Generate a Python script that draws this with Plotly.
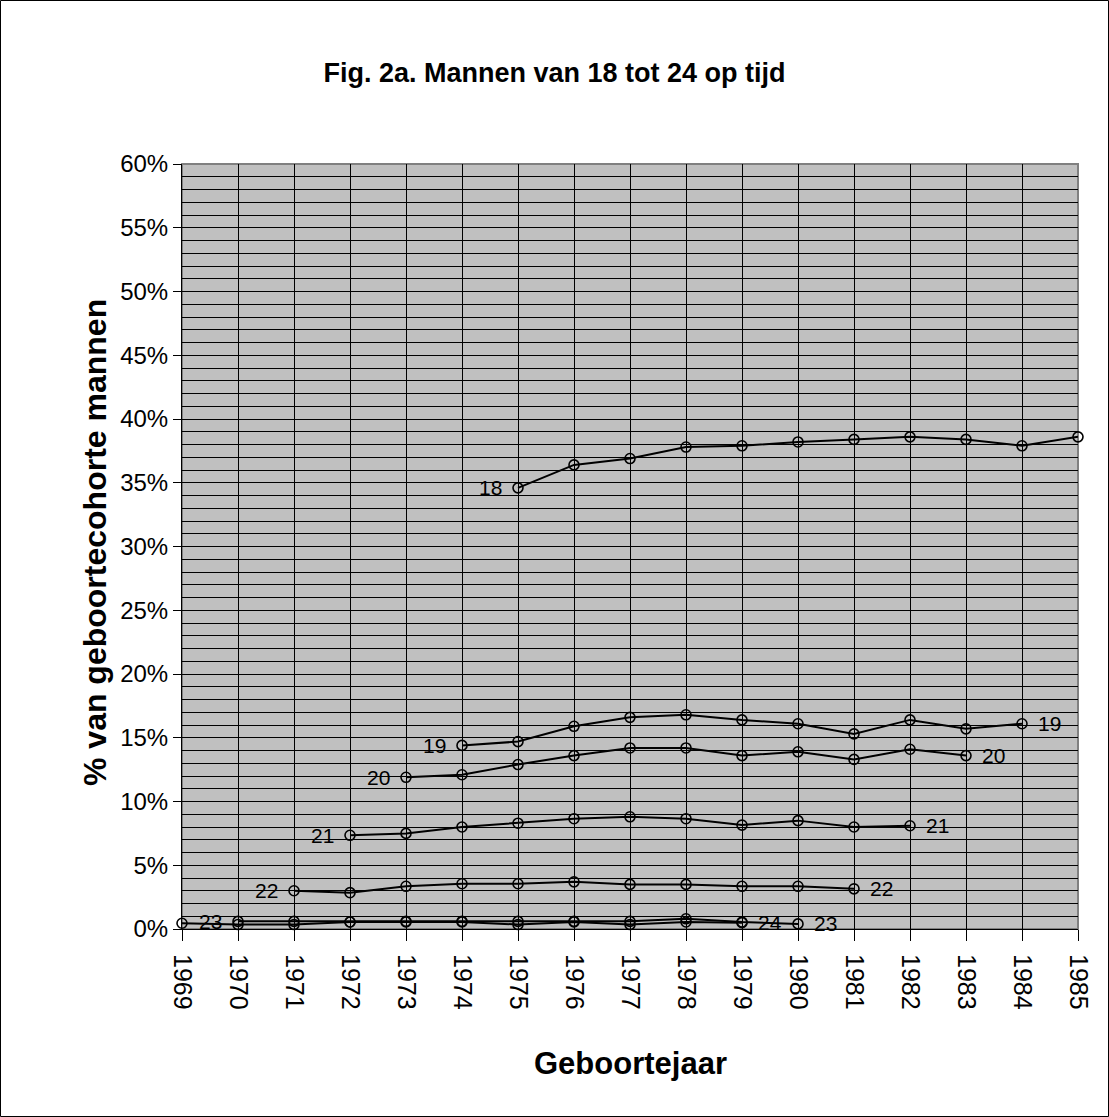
import plotly.graph_objects as go

# geboortejaren (x-as)
jaren = list(range(1969, 1986))

# y-as: percentages met tekst
y_ticks = list(range(0, 61, 5))
y_labels = [f"{v}%" for v in y_ticks]

# % van geboortecohorte mannen per leeftijd, van eerste tot laatste geboortejaar
jaren_18 = list(range(1975, 1986))
pct_18 = [34.6, 36.4, 36.9, 37.8, 37.9, 38.2, 38.4, 38.6, 38.4, 37.9, 38.6]

jaren_19 = list(range(1974, 1985))
pct_19 = [14.4, 14.7, 15.9, 16.6, 16.8, 16.4, 16.1, 15.3, 16.4, 15.7, 16.1]

jaren_20 = list(range(1973, 1984))
pct_20 = [11.9, 12.1, 12.9, 13.6, 14.2, 14.2, 13.6, 13.9, 13.3, 14.1, 13.6]

jaren_21 = list(range(1972, 1983))
pct_21 = [7.35, 7.5, 8.0, 8.3, 8.65, 8.8, 8.65, 8.15, 8.5, 8.0, 8.1]

jaren_22 = list(range(1971, 1982))
pct_22 = [3.0, 2.85, 3.35, 3.55, 3.55, 3.7, 3.5, 3.5, 3.35, 3.35, 3.15]

jaren_23 = list(range(1970, 1981))
pct_23 = [0.6, 0.6, 0.55, 0.6, 0.6, 0.6, 0.6, 0.6, 0.8, 0.55, 0.4]

jaren_24 = list(range(1969, 1980))
pct_24 = [0.45, 0.35, 0.35, 0.55, 0.55, 0.55, 0.35, 0.55, 0.35, 0.55, 0.5]

reeksen = [
    ("18", jaren_18, pct_18, True, False),
    ("19", jaren_19, pct_19, True, True),
    ("20", jaren_20, pct_20, True, True),
    ("21", jaren_21, pct_21, True, True),
    ("22", jaren_22, pct_22, True, True),
    ("23", jaren_23, pct_23, True, True),
    ("24", jaren_24, pct_24, False, True),
]

FONT = "Liberation Sans, Arial, sans-serif"
W, H = 1109, 1117
L, R, T, B = 182, 31, 164, 188
pw, ph = W - L - R, H - T - B


def px_x(x):
    return (x - L) / pw


def px_y(y):
    return (H - B - y) / ph


fig = go.Figure()
annotations = []

for naam, xs, ys, links, rechts in reeksen:
    fig.add_trace(go.Scatter(
        x=xs, y=ys, mode="lines+markers", name=naam,
        line=dict(color="black", width=2),
        marker=dict(symbol="circle-open", size=10, color="black", line=dict(width=1.6)),
        cliponaxis=False,
    ))
    lab = dict(text=naam, showarrow=False, font=dict(family=FONT, size=21, color="black"))
    if links:
        annotations.append(dict(lab, x=xs[0], y=ys[0], xanchor="right", xshift=-14))
    if rechts:
        annotations.append(dict(lab, x=xs[-1], y=ys[-1], xanchor="left", xshift=14))

# as-titels
annotations.append(dict(text="<b>Geboortejaar</b>", showarrow=False, xref="paper", yref="paper",
                        x=0.5, y=px_y(1063), xanchor="center", yanchor="middle",
                        font=dict(family=FONT, size=31, color="black")))
annotations.append(dict(text="<b>% van geboortecohorte mannen</b>", showarrow=False,
                        xref="paper", yref="paper", textangle=-90,
                        x=px_x(95), y=px_y(543), xanchor="center", yanchor="middle",
                        font=dict(family=FONT, size=32, color="black")))

fig.update_layout(
    width=W, height=H,
    margin=dict(l=L, r=R, t=T, b=B),
    paper_bgcolor="white",
    plot_bgcolor="#C0C0C0",
    showlegend=False,
    font=dict(family=FONT, color="black"),
    title=dict(text="<b>Fig. 2a. Mannen van 18 tot 24 op tijd</b>", x=0.5, xanchor="center",
               y=1 - 73 / H, yanchor="middle", font=dict(family=FONT, size=27, color="black")),
    annotations=annotations,
    shapes=[
        # grijze rand om het plotgebied
        dict(type="rect", xref="paper", yref="paper", x0=0, y0=0, x1=1, y1=1,
             line=dict(color="#808080", width=2), layer="between"),
        # zwarte rand om de hele figuur
        dict(type="rect", xref="paper", yref="paper",
             x0=px_x(0.5), x1=px_x(W - 0.5), y0=px_y(H - 0.5), y1=px_y(0.5),
             line=dict(color="black", width=1)),
    ],
)

fig.update_xaxes(
    range=[1969, 1985],
    tickvals=jaren, ticktext=[str(j) for j in jaren],
    tickangle=90,
    tickfont=dict(family=FONT, size=25, color="black"),
    ticks="outside", ticklen=11, tickcolor="black", tickwidth=1,
    ticklabelstandoff=8,
    showgrid=True, gridcolor="black", gridwidth=1,
    showline=True, linecolor="black", linewidth=1,
    zeroline=False,
)
fig.update_yaxes(
    range=[0, 60],
    tickvals=y_ticks, ticktext=y_labels,
    tickfont=dict(family=FONT, size=24, color="black"),
    ticks="outside", ticklen=8, tickcolor="black", tickwidth=1,
    showgrid=True, gridcolor="black", gridwidth=1,
    minor=dict(dtick=1, showgrid=True, gridcolor="black", gridwidth=1),
    showline=True, linecolor="black", linewidth=1,
    zeroline=False,
)

fig.write_html("out.html", config={"displayModeBar": False},
               post_script="document.body.style.margin='0';")
